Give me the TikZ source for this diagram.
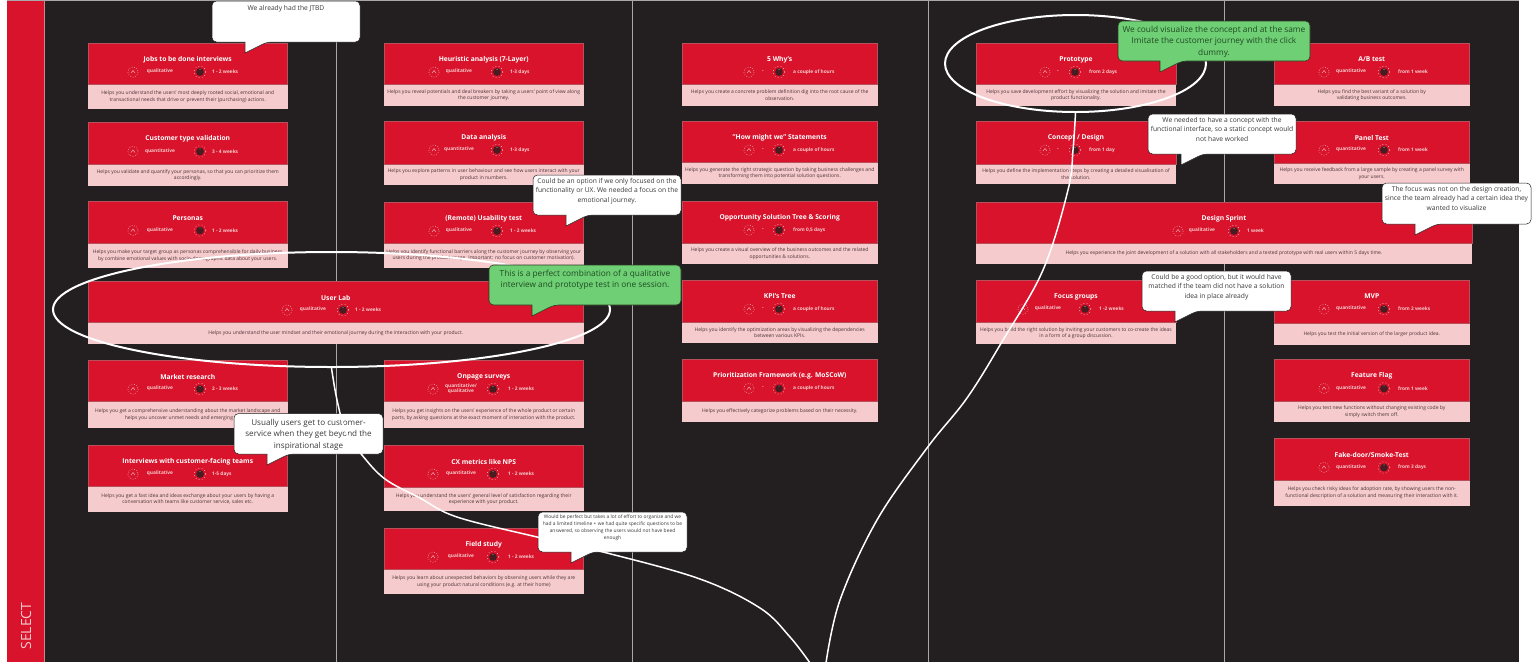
\documentclass[tikz,border=0pt]{standalone}
\usepackage{fontspec}
\setmainfont{Open Sans}
\usetikzlibrary{shapes.geometric}
\definecolor{bgdark}{HTML}{231F20}
\definecolor{cardred}{HTML}{D8132B}
\definecolor{cardpink}{HTML}{F6CBCD}
\definecolor{cardedge}{HTML}{B8505C}
\definecolor{desctext}{HTML}{4A3438}
\definecolor{greenb}{HTML}{6FCF75}
\definecolor{greenedge}{HTML}{2B3A22}
\definecolor{bubtext}{HTML}{3A3A3A}
\definecolor{greentext}{HTML}{1F4A22}
\definecolor{colline}{HTML}{A9A7A7}
\tikzset{
  x=1pt,y=-1pt,
  headzone/.style={fill=cardred,draw=cardedge,line width=.7pt},
  desczone/.style={fill=cardpink},
  titletext/.style={text=white,font=\fontsize{6.7}{7.5}\selectfont\bfseries,inner sep=0pt},
  metatext/.style={text=cardpink,font=\fontsize{4.8}{5.4}\selectfont\bfseries,inner sep=0pt,align=center},
  desctextnode/.style={text=desctext,font=\fontsize{5}{6.6}\selectfont,inner sep=0pt,align=center},
  bubblewhite/.style={fill=white,draw=bgdark,line width=.5pt},
  bubblegreen/.style={fill=greenb,draw=greenedge,line width=.6pt},
  bubtxt/.style={text=bubtext,font=\fontsize{6.7}{9.4}\selectfont,inner sep=0pt,align=center,anchor=north},
  bubbig/.style={text=bubtext,font=\fontsize{8.1}{11.4}\selectfont,inner sep=0pt,align=center,anchor=north,yshift=-2.5pt},
  bubgreentxt/.style={text=greentext,font=\fontsize{8.3}{11.8}\selectfont,inner sep=0pt,align=center,anchor=north,yshift=-1.5pt},
  bubtiny/.style={text=bubtext,font=\fontsize{4.9}{7}\selectfont,inner sep=0pt,align=center,anchor=north},
  ring/.style={draw=white,line width=2pt,ellipse,inner sep=0pt,fill=none},
  journey/.style={draw=white,line width=1.5pt},
}
% card layout: x0, x1, icon x, type centre x, knob x, time start x
\newcommand{\lay}[6]{\def\cxa{#1}\def\cxb{#2}\def\cic{#3}\def\cty{#4}\def\ckn{#5}\def\cti{#6}}
% name, top, split, bottom, title, type, time, description
\newcommand{\card}[8]{%
  \fill[desczone] (\cxa,#3) rectangle (\cxb,#4);
  \draw[headzone] (\cxa,#2) rectangle (\cxb,#3);
  \pgfmathsetmacro{\cmid}{(\cxa+\cxb)/2}
  \pgfmathsetmacro{\tity}{#2+16.5}
  \pgfmathsetmacro{\mety}{#2+29}
  \pgfmathsetmacro{\desy}{(#3+#4)/2}
  \node[titletext] (#1-title) at (\cmid,\tity) {#5};
  \node[metatext] (#1-type) at (\cty,\mety-.5) {#6};
  \node[metatext,anchor=west] (#1-time) at (\cti,\mety) {#7};
  \node[desctextnode] (#1-desc) at (\cmid,\desy) {#8};
  \draw[cardpink,line width=.4pt,dash pattern=on .9pt off 1.6pt] (\cic,\mety) circle[radius=5.2];
  \draw[cardpink,line width=.4pt] (\cic-2,\mety+1) -- (\cic,\mety-1.5) -- (\cic+2,\mety+1);
  \fill[bgdark!80!cardred] (\ckn,\mety) circle[radius=3.9];
  \fill[white] (\ckn,\mety-2.6) circle[radius=.4];
  \draw[cardpink,line width=.5pt,dash pattern=on .8pt off 2.4pt] (\ckn,\mety) circle[radius=5.8];
}
% name, x0, y0, x1, y1, tail x, style, text style, text
\newcommand{\bubble}[9]{%
  \draw[#7,rounded corners=4.5] (#2,#3) -- (#4,#3) -- (#4,#5) -- (#6+22,#5) [sharp corners] -- (#6,#5+11) -- (#6,#5) [rounded corners=4.5] -- (#2,#5) -- cycle;
  \node[#8] (#1) at ({(#2+#4)/2},#3+3) {#9};
}
\begin{document}
\begin{tikzpicture}
\useasboundingbox (0,0) rectangle (1536,662);
\fill[white] (0,0) rectangle (1536,662);
\fill[bgdark] (44,0) rectangle (1519,662);
\draw[colline,line width=.8pt] (6.5,.4) -- (1519,.4);
\fill[cardred] (6.5,.8) rectangle (44,662);
\draw[cardedge!70!white,line width=.8pt] (44.5,.8) -- (44.5,662);
\node[rotate=90,text=cardpink,font=\fontsize{14}{16}\selectfont,inner sep=0pt] (select) at (26,626) {SELECT};
\foreach \vx in {336,632,928,1224} \draw[colline,line width=.9pt] (\vx,1) -- (\vx,662);

% ---- column 1
\lay{88}{287.5}{133}{160}{200}{212}
\card{jobs}{43}{84}{109}{Jobs to be done interviews}{qualitative}{1 - 2 weeks}{Helps you understand the users' most deeply rooted social, emotional and\\transactional needs that drive or prevent their (purchasing) actions.}
\card{ctype}{122.5}{164}{186}{Customer type validation}{quantitative}{3 - 4 weeks}{Helps you validate and quantify your personas, so that you can prioritize them\\accordingly.}
\card{personas}{201.5}{243}{268}{Personas}{qualitative}{1 - 2 weeks}{Helps you make your target group as personas comprehensible for daily business\\by combine emotional values with socio-demographic data about your users.}
\card{market}{360}{401}{428}{Market research}{qualitative}{2 - 3 weeks}{Helps you get a comprehensive understanding about the market landscape and\\helps you uncover unmet needs and emerging trends.}
\card{cfacing}{445}{486}{512}{Interviews with customer-facing teams}{qualitative}{1-5 days}{Helps you get a fast idea and ideas exchange about your users by having a\\conversation with teams like customer service, sales etc.}
% ---- column 2
\lay{384}{583.5}{434}{459}{497}{510}
\card{heur}{43}{84}{106}{Heuristic analysis (7-Layer)}{qualitative}{1-3 days}{Helps you reveal potentials and deal breakers by taking a users' point of view along\\the customer journey.}
\card{data}{121}{164}{185}{Data analysis}{quantitative}{1-3 days}{Helps you explore patterns in user behaviour and see how users interact with your\\product in numbers.}
\card{remote}{202}{243}{267.5}{(Remote) Usability test}{qualitative}{1 - 2 weeks}{Helps you identify functional barriers along the customer journey by observing your\\users during the product usage. Important: no focus on customer motivation).}
\lay{384}{583.5}{433}{461}{493}{508}
\card{onpage}{360}{401}{428}{Onpage surveys}{quantitative/\\qualitative}{1 - 2 weeks}{Helps you get insights on the users' experience of the whole product or certain\\parts, by asking questions at the exact moment of interaction with the product.}
\card{cx}{445}{487}{511}{CX metrics like NPS}{quantitative}{1 - 2 weeks}{Helps you understand the users' general level of satisfaction regarding their\\experience with your product.}
\card{field}{528}{569}{594}{Field study}{qualitative}{1 - 2 weeks}{Helps you learn about unexpected behaviors by observing users while they are\\using your product natural conditions (e.g. at their home)}
% ---- wide: user lab
\lay{88}{583.5}{287}{313}{343}{355}
\card{lab}{281}{322}{343.5}{User Lab}{qualitative}{1 - 2 weeks}{Helps you understand the user mindset and their emotional journey during the interaction with your product.}
% ---- column 3
\lay{682}{877.5}{749}{763}{779}{793}
\card{why}{43}{84}{106}{5 Why's}{-}{a couple of hours}{Helps you create a concrete problem definition dig into the root cause of the\\observation.}
\card{hmw}{121}{162.5}{184}{"How might we" Statements}{-}{a couple of hours}{Helps you generate the right strategic question by taking business challenges and\\transforming them into potential solution questions.}
\card{ost}{201}{243}{264}{Opportunity Solution Tree \& Scoring}{-}{from 0,5 days}{Helps you create a visual overview of the business outcomes and the related\\opportunities \& solutions.}
\card{kpi}{280}{322}{343}{KPI's Tree}{-}{a couple of hours}{Helps you identify the optimization areas by visualizing the dependencies\\between various KPIs.}
\card{prio}{359.5}{401}{422}{Prioritization Framework (e.g. MoSCoW)}{-}{a couple of hours}{Helps you effectively categorize problems based on their necessity.}
% ---- column 4
\lay{976}{1176}{1045}{1058}{1075}{1089}
\card{proto}{43}{84}{106}{Prototype}{-}{from 2 days}{Helps you save development effort by visualizing the solution and imitate the\\product functionality.}
\card{concept}{121}{164}{184}{Concept / Design}{-}{from 1 day}{Helps you define the implementation steps by creating a detailed visualisation of\\the solution.}
\lay{976}{1176}{1023}{1048}{1085}{1099}
\card{focus}{280}{322}{344}{Focus groups}{qualitative}{1 -2 weeks}{Helps you build the right solution by inviting your customers to co-create the ideas\\in a form of a group discussion.}
\lay{976}{1472}{1178}{1202}{1234}{1247}
\card{sprint}{202}{243}{264}{Design Sprint}{qualitative}{1 week}{Helps you experience the joint development of a solution with all stakeholders and a tested prototype with real users within 5 days time.}
% ---- column 5
\lay{1274}{1469.5}{1324}{1351}{1384}{1398}
\card{ab}{43}{84}{106}{A/B test}{quantitative}{from 1 week}{Helps you find the best variant of a solution by\\validating business outcomes.}
\card{panel}{121}{163}{184}{Panel Test}{quantitative}{from 1 week}{Helps you receive feedback from a large sample by creating a panel survey with\\your users.}
\card{mvp}{280}{323}{345}{MVP}{quantitative}{from 2 weeks}{Helps you test the initial version of the larger product idea.}
\card{flag}{359.5}{401}{422}{Feature Flag}{quantitative}{from 1 week}{Helps you test new functions without changing existing code by\\simply switch them off.}
\card{fake}{438.5}{480}{505.5}{Fake-door/Smoke-Test}{quantitative}{from 3 days}{Helps you check risky ideas for adoption rate, by showing users the non-\\functional description of a solution and measuring their interaction with it.}

% ---- rings
\node[ring,minimum width=557pt,minimum height=115pt] (labring) at (331.5,309.5) {};
\node[ring,minimum width=261pt,minimum height=97pt] (protoring) at (1075.5,63.5) {};

% ---- callouts
\bubble{b1}{212}{1}{360}{42}{245}{bubblewhite}{bubtxt,yshift=-1.5pt}{We already had the JTBD}
\bubble{b2}{533}{175}{681}{215}{566}{bubblewhite}{bubtxt}{Could be an option if we only focused on the\\functionality or UX. We needed a focus on the\\emotional journey.}
\bubble{b3}{489}{265}{681}{305}{532}{bubblegreen}{bubgreentxt}{This is a perfect combination of a qualitative\\interview and prototype test in one session.}
\bubble{b4}{234}{413.5}{383}{454}{267}{bubblewhite}{bubbig}{Usually users get to customer-\\service when they get beyond the\\inspirational stage}
\bubble{b5}{538}{512}{687}{552}{571}{bubblewhite}{bubtiny}{Would be perfect but takes a lot of effort to organize and we\\had a limited timeline + we had quite specific questions to be\\answered, so observing the users would not have beed\\enough}
\bubble{b6}{1118}{21}{1310}{61}{1160}{bubblegreen}{bubgreentxt}{We could visualize the concept and at the same\\Imitate the customer journey with the click\\dummy.}
\bubble{b7}{1148}{114}{1296}{154}{1181}{bubblewhite}{bubtxt}{We needed to have a concept with the\\functional interface, so a static concept would\\not have worked}
\bubble{b8}{1382}{183}{1531}{224}{1415}{bubblewhite}{bubtxt}{The focus was not on the design creation,\\since the team already had a certain idea they\\wanted to visualize}
\bubble{b9}{1142}{271}{1291}{311}{1175}{bubblewhite}{bubtxt}{Could be a good option, but it would have\\matched if the team did not have a solution\\idea in place already}

% ---- journey line
\coordinate (exitleft) at (810,663);
\coordinate (exitright) at (826,663);
\draw[journey] plot[smooth,tension=.6] coordinates {(labring.south) (337,400) (346,432) (362,455) (385,479) (420,498) (457,517) (537,537) (607,553) (700,579) (760,608) (790,637) (exitleft)};
\draw[journey] plot[smooth,tension=.6] coordinates {(exitright) (840,600) (877,520) (927,448) (967,398) (1003,340) (1043,270) (1068,190) (1073,150) (protoring.south)};
\end{tikzpicture}
\end{document}
